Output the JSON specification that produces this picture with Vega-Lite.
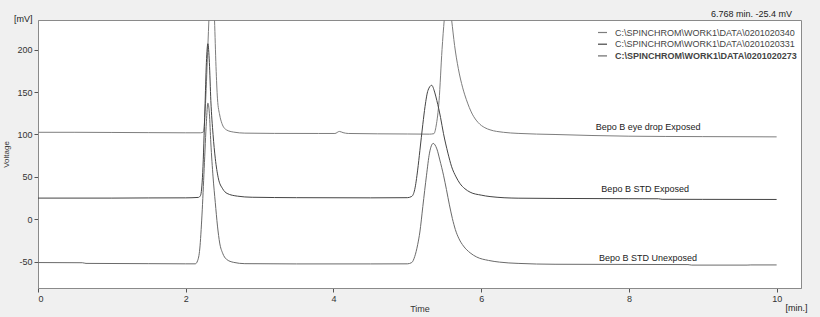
{
  "$schema": "https://vega.github.io/schema/vega-lite/v6.json",
  "width": 763,
  "height": 268,
  "autosize": "none",
  "padding": {"left": 38, "top": 20, "right": 19, "bottom": 29},
  "background": "#f0f0f0",
  "config": {
    "font": "Liberation Sans",
    "view": {"fill": "white", "stroke": "#8a8a8a", "strokeWidth": 1},
    "axis": {
      "grid": false,
      "domainColor": "#8a8a8a",
      "tickColor": "#555555",
      "tickSize": 4,
      "labelFontSize": 9,
      "labelColor": "#333333",
      "titleFontSize": 9,
      "titleFontWeight": "normal",
      "titleColor": "#333333",
      "labelExpr": "'' + datum.value"
    }
  },
  "title": {"text": "6.768 min.  -25.4 mV", "anchor": "end", "frame": "group", "fontSize": 9, "fontWeight": "normal", "color": "#222222", "offset": -4, "dx": -9},
  "datasets": {
    "traces": [
      {"file": "C:\\SPINCHROM\\WORK1\\DATA\\0201020340", "t": 0, "mv": 102.6},
      {"file": "C:\\SPINCHROM\\WORK1\\DATA\\0201020340", "t": 0.5, "mv": 102.6},
      {"file": "C:\\SPINCHROM\\WORK1\\DATA\\0201020340", "t": 1.0, "mv": 102.4},
      {"file": "C:\\SPINCHROM\\WORK1\\DATA\\0201020340", "t": 1.5, "mv": 102.2},
      {"file": "C:\\SPINCHROM\\WORK1\\DATA\\0201020340", "t": 2.0, "mv": 102.0},
      {"file": "C:\\SPINCHROM\\WORK1\\DATA\\0201020340", "t": 2.2, "mv": 102.0},
      {"file": "C:\\SPINCHROM\\WORK1\\DATA\\0201020340", "t": 2.24, "mv": 103},
      {"file": "C:\\SPINCHROM\\WORK1\\DATA\\0201020340", "t": 2.27, "mv": 140},
      {"file": "C:\\SPINCHROM\\WORK1\\DATA\\0201020340", "t": 2.30, "mv": 205},
      {"file": "C:\\SPINCHROM\\WORK1\\DATA\\0201020340", "t": 2.33, "mv": 270},
      {"file": "C:\\SPINCHROM\\WORK1\\DATA\\0201020340", "t": 2.35, "mv": 310},
      {"file": "C:\\SPINCHROM\\WORK1\\DATA\\0201020340", "t": 2.37, "mv": 280},
      {"file": "C:\\SPINCHROM\\WORK1\\DATA\\0201020340", "t": 2.39, "mv": 235},
      {"file": "C:\\SPINCHROM\\WORK1\\DATA\\0201020340", "t": 2.41, "mv": 180},
      {"file": "C:\\SPINCHROM\\WORK1\\DATA\\0201020340", "t": 2.43, "mv": 142},
      {"file": "C:\\SPINCHROM\\WORK1\\DATA\\0201020340", "t": 2.46, "mv": 123},
      {"file": "C:\\SPINCHROM\\WORK1\\DATA\\0201020340", "t": 2.49, "mv": 113},
      {"file": "C:\\SPINCHROM\\WORK1\\DATA\\0201020340", "t": 2.55, "mv": 105.5},
      {"file": "C:\\SPINCHROM\\WORK1\\DATA\\0201020340", "t": 2.65, "mv": 102.8},
      {"file": "C:\\SPINCHROM\\WORK1\\DATA\\0201020340", "t": 2.8, "mv": 101.6},
      {"file": "C:\\SPINCHROM\\WORK1\\DATA\\0201020340", "t": 3.2, "mv": 101.3},
      {"file": "C:\\SPINCHROM\\WORK1\\DATA\\0201020340", "t": 3.8, "mv": 101.2},
      {"file": "C:\\SPINCHROM\\WORK1\\DATA\\0201020340", "t": 4.02, "mv": 101.2},
      {"file": "C:\\SPINCHROM\\WORK1\\DATA\\0201020340", "t": 4.08, "mv": 103.6},
      {"file": "C:\\SPINCHROM\\WORK1\\DATA\\0201020340", "t": 4.13, "mv": 102.2},
      {"file": "C:\\SPINCHROM\\WORK1\\DATA\\0201020340", "t": 4.2, "mv": 101.2},
      {"file": "C:\\SPINCHROM\\WORK1\\DATA\\0201020340", "t": 4.6, "mv": 100.8},
      {"file": "C:\\SPINCHROM\\WORK1\\DATA\\0201020340", "t": 5.0, "mv": 100.6},
      {"file": "C:\\SPINCHROM\\WORK1\\DATA\\0201020340", "t": 5.3, "mv": 100.4},
      {"file": "C:\\SPINCHROM\\WORK1\\DATA\\0201020340", "t": 5.36, "mv": 101},
      {"file": "C:\\SPINCHROM\\WORK1\\DATA\\0201020340", "t": 5.39, "mv": 110},
      {"file": "C:\\SPINCHROM\\WORK1\\DATA\\0201020340", "t": 5.43, "mv": 140},
      {"file": "C:\\SPINCHROM\\WORK1\\DATA\\0201020340", "t": 5.47, "mv": 200},
      {"file": "C:\\SPINCHROM\\WORK1\\DATA\\0201020340", "t": 5.50, "mv": 235},
      {"file": "C:\\SPINCHROM\\WORK1\\DATA\\0201020340", "t": 5.53, "mv": 258},
      {"file": "C:\\SPINCHROM\\WORK1\\DATA\\0201020340", "t": 5.56, "mv": 262},
      {"file": "C:\\SPINCHROM\\WORK1\\DATA\\0201020340", "t": 5.60, "mv": 235},
      {"file": "C:\\SPINCHROM\\WORK1\\DATA\\0201020340", "t": 5.64, "mv": 205},
      {"file": "C:\\SPINCHROM\\WORK1\\DATA\\0201020340", "t": 5.69, "mv": 178},
      {"file": "C:\\SPINCHROM\\WORK1\\DATA\\0201020340", "t": 5.75, "mv": 155},
      {"file": "C:\\SPINCHROM\\WORK1\\DATA\\0201020340", "t": 5.80, "mv": 141},
      {"file": "C:\\SPINCHROM\\WORK1\\DATA\\0201020340", "t": 5.88, "mv": 124},
      {"file": "C:\\SPINCHROM\\WORK1\\DATA\\0201020340", "t": 5.96, "mv": 114},
      {"file": "C:\\SPINCHROM\\WORK1\\DATA\\0201020340", "t": 6.05, "mv": 108},
      {"file": "C:\\SPINCHROM\\WORK1\\DATA\\0201020340", "t": 6.12, "mv": 105.5},
      {"file": "C:\\SPINCHROM\\WORK1\\DATA\\0201020340", "t": 6.3, "mv": 102.6},
      {"file": "C:\\SPINCHROM\\WORK1\\DATA\\0201020340", "t": 6.5, "mv": 101.3},
      {"file": "C:\\SPINCHROM\\WORK1\\DATA\\0201020340", "t": 7.0, "mv": 100},
      {"file": "C:\\SPINCHROM\\WORK1\\DATA\\0201020340", "t": 7.5, "mv": 98.8},
      {"file": "C:\\SPINCHROM\\WORK1\\DATA\\0201020340", "t": 8.0, "mv": 98},
      {"file": "C:\\SPINCHROM\\WORK1\\DATA\\0201020340", "t": 9.0, "mv": 97.5},
      {"file": "C:\\SPINCHROM\\WORK1\\DATA\\0201020340", "t": 10.0, "mv": 97.2},

      {"file": "C:\\SPINCHROM\\WORK1\\DATA\\0201020331", "t": 0, "mv": 25},
      {"file": "C:\\SPINCHROM\\WORK1\\DATA\\0201020331", "t": 1.0, "mv": 25},
      {"file": "C:\\SPINCHROM\\WORK1\\DATA\\0201020331", "t": 1.5, "mv": 25.2},
      {"file": "C:\\SPINCHROM\\WORK1\\DATA\\0201020331", "t": 2.0, "mv": 25.3},
      {"file": "C:\\SPINCHROM\\WORK1\\DATA\\0201020331", "t": 2.17, "mv": 25.8},
      {"file": "C:\\SPINCHROM\\WORK1\\DATA\\0201020331", "t": 2.20, "mv": 28},
      {"file": "C:\\SPINCHROM\\WORK1\\DATA\\0201020331", "t": 2.23, "mv": 55},
      {"file": "C:\\SPINCHROM\\WORK1\\DATA\\0201020331", "t": 2.26, "mv": 130},
      {"file": "C:\\SPINCHROM\\WORK1\\DATA\\0201020331", "t": 2.28, "mv": 185},
      {"file": "C:\\SPINCHROM\\WORK1\\DATA\\0201020331", "t": 2.30, "mv": 207},
      {"file": "C:\\SPINCHROM\\WORK1\\DATA\\0201020331", "t": 2.32, "mv": 185},
      {"file": "C:\\SPINCHROM\\WORK1\\DATA\\0201020331", "t": 2.34, "mv": 140},
      {"file": "C:\\SPINCHROM\\WORK1\\DATA\\0201020331", "t": 2.37, "mv": 100},
      {"file": "C:\\SPINCHROM\\WORK1\\DATA\\0201020331", "t": 2.40, "mv": 72},
      {"file": "C:\\SPINCHROM\\WORK1\\DATA\\0201020331", "t": 2.44, "mv": 49},
      {"file": "C:\\SPINCHROM\\WORK1\\DATA\\0201020331", "t": 2.50, "mv": 36},
      {"file": "C:\\SPINCHROM\\WORK1\\DATA\\0201020331", "t": 2.56, "mv": 30.5},
      {"file": "C:\\SPINCHROM\\WORK1\\DATA\\0201020331", "t": 2.7, "mv": 27.3},
      {"file": "C:\\SPINCHROM\\WORK1\\DATA\\0201020331", "t": 2.9, "mv": 26},
      {"file": "C:\\SPINCHROM\\WORK1\\DATA\\0201020331", "t": 3.5, "mv": 25.5},
      {"file": "C:\\SPINCHROM\\WORK1\\DATA\\0201020331", "t": 4.5, "mv": 25.3},
      {"file": "C:\\SPINCHROM\\WORK1\\DATA\\0201020331", "t": 5.0, "mv": 25.5},
      {"file": "C:\\SPINCHROM\\WORK1\\DATA\\0201020331", "t": 5.06, "mv": 27},
      {"file": "C:\\SPINCHROM\\WORK1\\DATA\\0201020331", "t": 5.10, "mv": 35},
      {"file": "C:\\SPINCHROM\\WORK1\\DATA\\0201020331", "t": 5.14, "mv": 58},
      {"file": "C:\\SPINCHROM\\WORK1\\DATA\\0201020331", "t": 5.17, "mv": 81},
      {"file": "C:\\SPINCHROM\\WORK1\\DATA\\0201020331", "t": 5.21, "mv": 112},
      {"file": "C:\\SPINCHROM\\WORK1\\DATA\\0201020331", "t": 5.24, "mv": 133},
      {"file": "C:\\SPINCHROM\\WORK1\\DATA\\0201020331", "t": 5.28, "mv": 152},
      {"file": "C:\\SPINCHROM\\WORK1\\DATA\\0201020331", "t": 5.33, "mv": 158},
      {"file": "C:\\SPINCHROM\\WORK1\\DATA\\0201020331", "t": 5.37, "mv": 150},
      {"file": "C:\\SPINCHROM\\WORK1\\DATA\\0201020331", "t": 5.40, "mv": 140},
      {"file": "C:\\SPINCHROM\\WORK1\\DATA\\0201020331", "t": 5.45, "mv": 120},
      {"file": "C:\\SPINCHROM\\WORK1\\DATA\\0201020331", "t": 5.49, "mv": 101},
      {"file": "C:\\SPINCHROM\\WORK1\\DATA\\0201020331", "t": 5.55, "mv": 78},
      {"file": "C:\\SPINCHROM\\WORK1\\DATA\\0201020331", "t": 5.60, "mv": 62},
      {"file": "C:\\SPINCHROM\\WORK1\\DATA\\0201020331", "t": 5.66, "mv": 50},
      {"file": "C:\\SPINCHROM\\WORK1\\DATA\\0201020331", "t": 5.71, "mv": 42.5},
      {"file": "C:\\SPINCHROM\\WORK1\\DATA\\0201020331", "t": 5.78, "mv": 36},
      {"file": "C:\\SPINCHROM\\WORK1\\DATA\\0201020331", "t": 5.85, "mv": 32},
      {"file": "C:\\SPINCHROM\\WORK1\\DATA\\0201020331", "t": 6.0, "mv": 28.5},
      {"file": "C:\\SPINCHROM\\WORK1\\DATA\\0201020331", "t": 6.12, "mv": 26.8},
      {"file": "C:\\SPINCHROM\\WORK1\\DATA\\0201020331", "t": 6.5, "mv": 24.9},
      {"file": "C:\\SPINCHROM\\WORK1\\DATA\\0201020331", "t": 7.0, "mv": 24.6},
      {"file": "C:\\SPINCHROM\\WORK1\\DATA\\0201020331", "t": 8.0, "mv": 24.3},
      {"file": "C:\\SPINCHROM\\WORK1\\DATA\\0201020331", "t": 8.4, "mv": 24.2},
      {"file": "C:\\SPINCHROM\\WORK1\\DATA\\0201020331", "t": 8.45, "mv": 23.6},
      {"file": "C:\\SPINCHROM\\WORK1\\DATA\\0201020331", "t": 9.0, "mv": 23.5},
      {"file": "C:\\SPINCHROM\\WORK1\\DATA\\0201020331", "t": 10.0, "mv": 23.4},

      {"file": "C:\\SPINCHROM\\WORK1\\DATA\\0201020273", "t": 0, "mv": -51},
      {"file": "C:\\SPINCHROM\\WORK1\\DATA\\0201020273", "t": 0.6, "mv": -51.2},
      {"file": "C:\\SPINCHROM\\WORK1\\DATA\\0201020273", "t": 0.65, "mv": -52},
      {"file": "C:\\SPINCHROM\\WORK1\\DATA\\0201020273", "t": 1.5, "mv": -52.3},
      {"file": "C:\\SPINCHROM\\WORK1\\DATA\\0201020273", "t": 2.0, "mv": -52.5},
      {"file": "C:\\SPINCHROM\\WORK1\\DATA\\0201020273", "t": 2.13, "mv": -52.5},
      {"file": "C:\\SPINCHROM\\WORK1\\DATA\\0201020273", "t": 2.16, "mv": -49},
      {"file": "C:\\SPINCHROM\\WORK1\\DATA\\0201020273", "t": 2.19, "mv": -35},
      {"file": "C:\\SPINCHROM\\WORK1\\DATA\\0201020273", "t": 2.22, "mv": 5},
      {"file": "C:\\SPINCHROM\\WORK1\\DATA\\0201020273", "t": 2.25, "mv": 60},
      {"file": "C:\\SPINCHROM\\WORK1\\DATA\\0201020273", "t": 2.28, "mv": 115},
      {"file": "C:\\SPINCHROM\\WORK1\\DATA\\0201020273", "t": 2.30, "mv": 137},
      {"file": "C:\\SPINCHROM\\WORK1\\DATA\\0201020273", "t": 2.32, "mv": 125},
      {"file": "C:\\SPINCHROM\\WORK1\\DATA\\0201020273", "t": 2.34, "mv": 90},
      {"file": "C:\\SPINCHROM\\WORK1\\DATA\\0201020273", "t": 2.37, "mv": 50},
      {"file": "C:\\SPINCHROM\\WORK1\\DATA\\0201020273", "t": 2.40, "mv": 20},
      {"file": "C:\\SPINCHROM\\WORK1\\DATA\\0201020273", "t": 2.43, "mv": -8},
      {"file": "C:\\SPINCHROM\\WORK1\\DATA\\0201020273", "t": 2.46, "mv": -28},
      {"file": "C:\\SPINCHROM\\WORK1\\DATA\\0201020273", "t": 2.50, "mv": -40},
      {"file": "C:\\SPINCHROM\\WORK1\\DATA\\0201020273", "t": 2.55, "mv": -47},
      {"file": "C:\\SPINCHROM\\WORK1\\DATA\\0201020273", "t": 2.65, "mv": -50.8},
      {"file": "C:\\SPINCHROM\\WORK1\\DATA\\0201020273", "t": 2.8, "mv": -52.3},
      {"file": "C:\\SPINCHROM\\WORK1\\DATA\\0201020273", "t": 3.5, "mv": -52.6},
      {"file": "C:\\SPINCHROM\\WORK1\\DATA\\0201020273", "t": 4.5, "mv": -52.6},
      {"file": "C:\\SPINCHROM\\WORK1\\DATA\\0201020273", "t": 5.0, "mv": -52.5},
      {"file": "C:\\SPINCHROM\\WORK1\\DATA\\0201020273", "t": 5.06, "mv": -51},
      {"file": "C:\\SPINCHROM\\WORK1\\DATA\\0201020273", "t": 5.10, "mv": -44},
      {"file": "C:\\SPINCHROM\\WORK1\\DATA\\0201020273", "t": 5.14, "mv": -30},
      {"file": "C:\\SPINCHROM\\WORK1\\DATA\\0201020273", "t": 5.17, "mv": -15},
      {"file": "C:\\SPINCHROM\\WORK1\\DATA\\0201020273", "t": 5.21, "mv": 15},
      {"file": "C:\\SPINCHROM\\WORK1\\DATA\\0201020273", "t": 5.26, "mv": 52},
      {"file": "C:\\SPINCHROM\\WORK1\\DATA\\0201020273", "t": 5.30, "mv": 78},
      {"file": "C:\\SPINCHROM\\WORK1\\DATA\\0201020273", "t": 5.35, "mv": 89.5},
      {"file": "C:\\SPINCHROM\\WORK1\\DATA\\0201020273", "t": 5.40, "mv": 83},
      {"file": "C:\\SPINCHROM\\WORK1\\DATA\\0201020273", "t": 5.44, "mv": 70},
      {"file": "C:\\SPINCHROM\\WORK1\\DATA\\0201020273", "t": 5.49, "mv": 52},
      {"file": "C:\\SPINCHROM\\WORK1\\DATA\\0201020273", "t": 5.53, "mv": 35},
      {"file": "C:\\SPINCHROM\\WORK1\\DATA\\0201020273", "t": 5.57, "mv": 17},
      {"file": "C:\\SPINCHROM\\WORK1\\DATA\\0201020273", "t": 5.61, "mv": 1},
      {"file": "C:\\SPINCHROM\\WORK1\\DATA\\0201020273", "t": 5.65, "mv": -12},
      {"file": "C:\\SPINCHROM\\WORK1\\DATA\\0201020273", "t": 5.70, "mv": -23},
      {"file": "C:\\SPINCHROM\\WORK1\\DATA\\0201020273", "t": 5.76, "mv": -31.5},
      {"file": "C:\\SPINCHROM\\WORK1\\DATA\\0201020273", "t": 5.85, "mv": -39.5},
      {"file": "C:\\SPINCHROM\\WORK1\\DATA\\0201020273", "t": 5.94, "mv": -44.5},
      {"file": "C:\\SPINCHROM\\WORK1\\DATA\\0201020273", "t": 6.1, "mv": -48.5},
      {"file": "C:\\SPINCHROM\\WORK1\\DATA\\0201020273", "t": 6.25, "mv": -50.5},
      {"file": "C:\\SPINCHROM\\WORK1\\DATA\\0201020273", "t": 6.5, "mv": -52},
      {"file": "C:\\SPINCHROM\\WORK1\\DATA\\0201020273", "t": 7.0, "mv": -53},
      {"file": "C:\\SPINCHROM\\WORK1\\DATA\\0201020273", "t": 8.0, "mv": -53.2},
      {"file": "C:\\SPINCHROM\\WORK1\\DATA\\0201020273", "t": 8.8, "mv": -53.4},
      {"file": "C:\\SPINCHROM\\WORK1\\DATA\\0201020273", "t": 8.85, "mv": -54},
      {"file": "C:\\SPINCHROM\\WORK1\\DATA\\0201020273", "t": 9.6, "mv": -54},
      {"file": "C:\\SPINCHROM\\WORK1\\DATA\\0201020273", "t": 9.65, "mv": -53.8},
      {"file": "C:\\SPINCHROM\\WORK1\\DATA\\0201020273", "t": 10.0, "mv": -53.8}
    ],
    "notes": [
      {"label": "Bepo B eye drop Exposed", "t": 8.26, "mv": 108.7},
      {"label": "Bepo B STD Exposed", "t": 8.22, "mv": 35.5},
      {"label": "Bepo B STD Unexposed", "t": 8.26, "mv": -46},
      {"label": "[mV]", "t": -0.2, "mv": 236.5},
      {"label": "[min.]", "t": 10.27, "mv": -104}
    ]
  },
  "layer": [
    {
      "data": {"name": "traces"},
      "mark": {"type": "line", "clip": true, "strokeWidth": 1, "interpolate": "monotone"},
      "encoding": {
        "x": {
          "field": "t", "type": "quantitative",
          "scale": {"domain": [0, 10.33], "nice": false, "zero": false},
          "axis": {"values": [0, 2, 4, 6, 8, 10], "title": "Time", "titlePadding": 1}
        },
        "y": {
          "field": "mv", "type": "quantitative",
          "scale": {"domain": [-81, 235], "nice": false, "zero": false},
          "axis": {"values": [-50, 0, 50, 100, 150, 200], "title": "Voltage", "titleFontSize": 8, "titlePadding": 6}
        },
        "color": {
          "field": "file", "type": "nominal",
          "scale": {
            "domain": ["C:\\SPINCHROM\\WORK1\\DATA\\0201020340", "C:\\SPINCHROM\\WORK1\\DATA\\0201020331", "C:\\SPINCHROM\\WORK1\\DATA\\0201020273"],
            "range": ["#7d7d7d", "#444444", "#6a6a6a"]
          },
          "legend": {
            "title": null,
            "orient": "none",
            "legendX": 559,
            "legendY": 7,
            "symbolType": "stroke",
            "symbolSize": 81,
            "symbolStrokeWidth": 1.2,
            "labelFontSize": 9,
            "labelColor": "#444444",
            "labelOffset": 7,
            "rowPadding": 0.7,
            "labelLimit": 300,
            "labelFontWeight": {"expr": "datum.value == 'C:\\\\SPINCHROM\\\\WORK1\\\\DATA\\\\0201020273' ? 'bold' : 'normal'"}
          }
        }
      }
    },
    {
      "data": {"name": "notes"},
      "mark": {"type": "text", "fontSize": 9, "color": "#222222", "align": "center", "baseline": "middle"},
      "encoding": {
        "x": {"field": "t", "type": "quantitative"},
        "y": {"field": "mv", "type": "quantitative"},
        "text": {"field": "label"}
      }
    }
  ]
}
